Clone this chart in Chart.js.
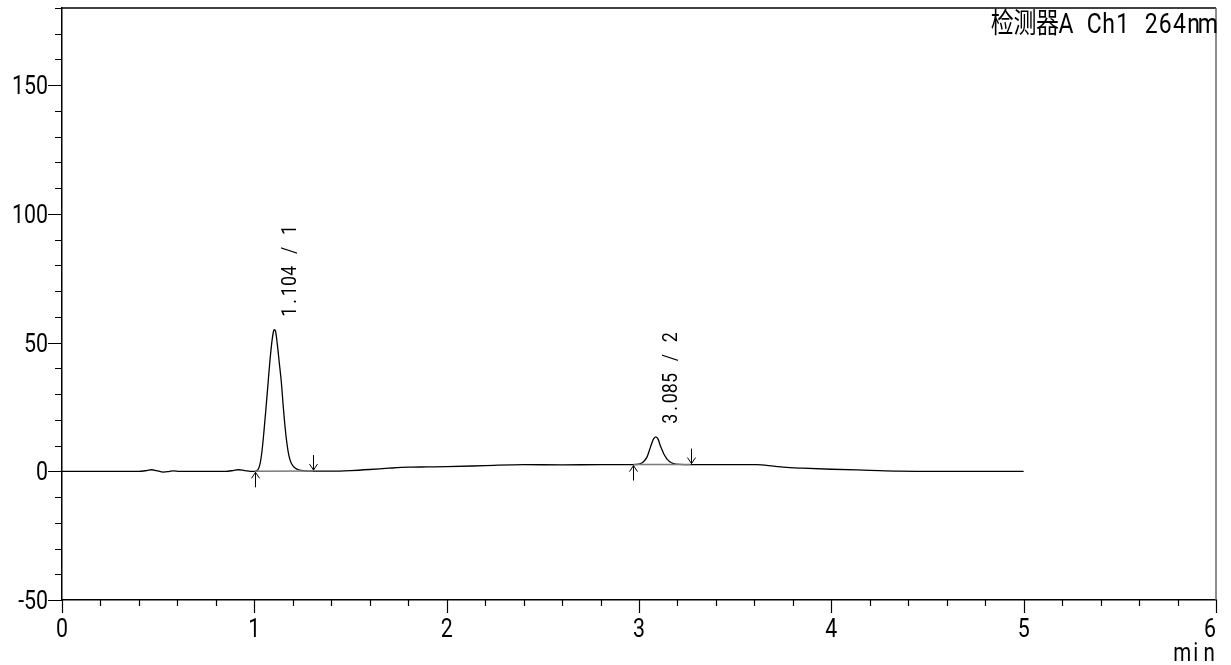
<!DOCTYPE html>
<html lang="zh">
<head>
<meta charset="UTF-8">
<title>检测器A Ch1 264nm</title>
<script src="https://cdn.jsdelivr.net/npm/chart.js"></script>
<style>
  body { margin: 0; background: #fff; }
  #wrap { width: 1231px; height: 665px; }
</style>
</head>
<body>
<div id="wrap"><canvas id="chrom" width="1231" height="665"></canvas></div>
<script>
// retention time (min) and detector signal
const times = [
  0, 0.40, 0.44, 0.466, 0.49, 0.527, 0.555, 0.58, 0.61, 0.65, 0.85, 0.89, 0.917, 0.95, 0.98,
  1.003, 1.02, 1.03, 1.04, 1.05, 1.06, 1.07, 1.08, 1.09, 1.10, 1.104, 1.11, 1.12, 1.13, 1.14,
  1.15, 1.16, 1.17, 1.18, 1.19, 1.20, 1.21, 1.23, 1.26, 1.304,
  1.40, 1.50, 1.60, 1.70, 1.80, 1.90, 2.00, 2.20, 2.40, 2.60, 2.80, 2.971,
  3.00, 3.02, 3.04, 3.06, 3.075, 3.087, 3.10, 3.11, 3.12, 3.13, 3.145, 3.16, 3.18, 3.21, 3.269,
  3.40, 3.61, 3.70, 3.75, 3.85, 4.00, 4.20, 4.35, 4.55, 5.00
];
const signal = [
  0, 0, 0.3, 0.6, 0.3, -0.3, -0.1, 0.2, 0, 0, 0, 0.3, 0.6, 0.3, 0,
  0, 0.8, 3, 8, 15.5, 24, 33, 42, 49.5, 54.5, 55, 54.5, 49, 42, 35,
  25.5, 17, 10.5, 6, 3.5, 2.2, 1.4, 0.6, 0.2, 0.1,
  0.1, 0.3, 0.7, 1.2, 1.6, 1.7, 1.8, 2.2, 2.6, 2.5, 2.6, 2.6,
  2.8, 3.5, 5.3, 9.5, 12.5, 13.4, 12.4, 10.1, 8.3, 6.6, 4.8, 3.7, 3.0, 2.7, 2.6,
  2.6, 2.6, 2.0, 1.6, 1.2, 0.8, 0.4, 0.1, 0, 0
];

// axis ticks
const xTickLabels = [0, 1, 2, 3, 4, 5, 6];
const yTickLabels = [-50, 0, 50, 100, 150];
const xMinorStep = 0.2;
const yMinorStep = 10;

// peak table: apex, label, integration start/end
const peakTimes = [1.104, 3.085];
const peakHeights = [55, 13.4];
const peakLabels = ['1.104 / 1', '3.085 / 2'];
const peakStartTimes = [1.003, 2.971];
const peakStartLevels = [0, 2.6];
const peakEndTimes = [1.304, 3.269];
const peakEndLevels = [0.1, 2.6];

const headerText = '检测器A Ch1 264nm';
const xUnit = 'min';

const points = times.map((t, i) => ({ x: t, y: signal[i] }));

// draws text in fixed cells like the instrument printout
function drawCells(ctx, text, x, y, cell, cjkCell, squeeze, alignRight) {
  const chars = [...text];
  const widths = chars.map(ch => ch.charCodeAt(0) > 255 ? cjkCell : cell);
  const total = widths.reduce((a, b) => a + b, 0);
  let cx = alignRight ? x - total : x;
  chars.forEach((ch, i) => {
    ctx.save();
    ctx.translate(cx + widths[i] / 2, y);
    ctx.scale(squeeze, 1);
    ctx.fillText(ch, 0, 0);
    ctx.restore();
    cx += widths[i];
  });
}

// condensed label, centred on x but kept inside maxRight
function drawNarrow(ctx, text, x, y, squeeze, align, maxRight) {
  const w = ctx.measureText(text).width * squeeze;
  let left = align === 'right' ? x - w : x - w / 2;
  if (maxRight !== undefined && left + w > maxRight) left = maxRight - w;
  ctx.save();
  ctx.translate(left, y);
  ctx.scale(squeeze, 1);
  ctx.textAlign = 'left';
  ctx.fillText(text, 0, 0);
  ctx.restore();
}

const chromPlugin = {
  id: 'chrom',
  afterDatasetsDraw(chart) {
    const ctx = chart.ctx;
    const xs = chart.scales.x, ys = chart.scales.y;
    ctx.save();

    // integration baselines
    ctx.strokeStyle = '#7a7a7a';
    ctx.lineWidth = 1.5;
    peakStartTimes.forEach((t, i) => {
      ctx.beginPath();
      ctx.moveTo(xs.getPixelForValue(t), ys.getPixelForValue(peakStartLevels[i]));
      ctx.lineTo(xs.getPixelForValue(peakEndTimes[i]), ys.getPixelForValue(peakEndLevels[i]));
      ctx.stroke();
    });

    // start (up) and end (down) markers
    ctx.strokeStyle = '#000';
    ctx.lineWidth = 1;
    peakStartTimes.forEach((t, i) => {
      const px = Math.round(xs.getPixelForValue(t)) + 0.5;
      const py = ys.getPixelForValue(peakStartLevels[i]);
      ctx.beginPath();
      ctx.moveTo(px, py + 16); ctx.lineTo(px, py + 1);
      ctx.moveTo(px - 4, py + 7); ctx.lineTo(px, py + 1); ctx.lineTo(px + 4, py + 7);
      ctx.stroke();
    });
    peakEndTimes.forEach((t, i) => {
      const px = Math.round(xs.getPixelForValue(t)) + 0.5;
      const py = ys.getPixelForValue(peakEndLevels[i]);
      ctx.beginPath();
      ctx.moveTo(px, py - 16); ctx.lineTo(px, py - 1);
      ctx.moveTo(px - 4, py - 7); ctx.lineTo(px, py - 1); ctx.lineTo(px + 4, py - 7);
      ctx.stroke();
    });

    // peak labels, rotated
    ctx.fillStyle = '#000';
    ctx.font = '21px Roboto, sans-serif';
    ctx.textAlign = 'center';
    ctx.textBaseline = 'middle';
    peakTimes.forEach((t, i) => {
      ctx.save();
      ctx.translate(xs.getPixelForValue(t) + 16, ys.getPixelForValue(peakHeights[i]) - 13);
      ctx.rotate(-Math.PI / 2);
      drawCells(ctx, peakLabels[i], 0, 0, 10.2, 20.4, 0.85, false);
      ctx.restore();
    });
    ctx.restore();
  },
  afterDraw(chart) {
    const ctx = chart.ctx;
    const xs = chart.scales.x, ys = chart.scales.y;
    const area = chart.chartArea;
    ctx.save();

    // frame top and right
    ctx.strokeStyle = '#000';
    ctx.lineWidth = 1.5;
    ctx.beginPath();
    ctx.moveTo(area.left, area.top); ctx.lineTo(area.right, area.top);
    ctx.stroke();
    ctx.strokeStyle = '#666';
    ctx.beginPath();
    ctx.moveTo(area.right, area.top); ctx.lineTo(area.right, area.bottom);
    ctx.stroke();

    // tick marks
    ctx.strokeStyle = '#000';
    ctx.lineWidth = 1.2;
    ctx.beginPath();
    for (let v = ys.min; v <= ys.max + 1e-9; v += yMinorStep) {
      const py = Math.round(ys.getPixelForValue(v)) + 0.5;
      const len = yTickLabels.includes(v) ? 14 : 7;
      ctx.moveTo(area.left - len, py); ctx.lineTo(area.left, py);
    }
    for (let k = 0; k * xMinorStep <= xs.max + 1e-9; k++) {
      const v = +(k * xMinorStep).toFixed(3);
      const px = Math.round(xs.getPixelForValue(v)) + 0.5;
      const len = xTickLabels.includes(v) ? 13 : 6;
      ctx.moveTo(px, area.bottom); ctx.lineTo(px, area.bottom + len);
    }
    ctx.stroke();

    // tick labels
    ctx.fillStyle = '#000';
    ctx.textBaseline = 'alphabetic';
    ctx.font = '26px Roboto, sans-serif';
    yTickLabels.forEach(v => {
      drawNarrow(ctx, String(v), area.left - 14, ys.getPixelForValue(v) + 9, 0.82, 'right');
    });
    xTickLabels.forEach(v => {
      drawNarrow(ctx, String(v), xs.getPixelForValue(v), 637, 0.82, 'center', area.right);
    });

    // header and unit
    ctx.textAlign = 'center';
    ctx.font = '28px Roboto, "Noto Sans CJK SC", sans-serif';
    drawCells(ctx, headerText, area.right - 1, 33, 14.2, 22.6, 0.82, true);
    ctx.font = '25px Roboto, sans-serif';
    drawCells(ctx, xUnit, area.right, 661, 13.5, 27, 0.82, true);
    ctx.restore();
  }
};

function fixBox(s, prop, size) {
  s[prop] = size;
  s.paddingTop = 0; s.paddingBottom = 0; s.paddingLeft = 0; s.paddingRight = 0;
}

new Chart(document.getElementById('chrom'), {
  type: 'line',
  data: {
    datasets: [{
      data: points,
      borderColor: '#000',
      borderWidth: 1.3,
      pointRadius: 0,
      cubicInterpolationMode: 'monotone',
      fill: false
    }]
  },
  options: {
    responsive: false,
    animation: false,
    layout: { padding: { top: 8, right: 15, left: 0, bottom: 0 } },
    plugins: { legend: { display: false }, tooltip: { enabled: false } },
    scales: {
      x: {
        type: 'linear',
        min: 0,
        max: 6,
        afterBuildTicks: s => { s.ticks = xTickLabels.map(v => ({ value: v })); },
        afterFit: s => fixBox(s, 'height', 65),
        grid: { display: false },
        border: { display: true, color: '#000', width: 1.5 },
        ticks: { display: false }
      },
      y: {
        min: -50,
        max: 180,
        afterBuildTicks: s => { s.ticks = yTickLabels.map(v => ({ value: v })); },
        afterFit: s => fixBox(s, 'width', 62),
        grid: { display: false },
        border: { display: true, color: '#000', width: 1.5 },
        ticks: { display: false }
      }
    }
  },
  plugins: [chromPlugin]
});
</script>
</body>
</html>
